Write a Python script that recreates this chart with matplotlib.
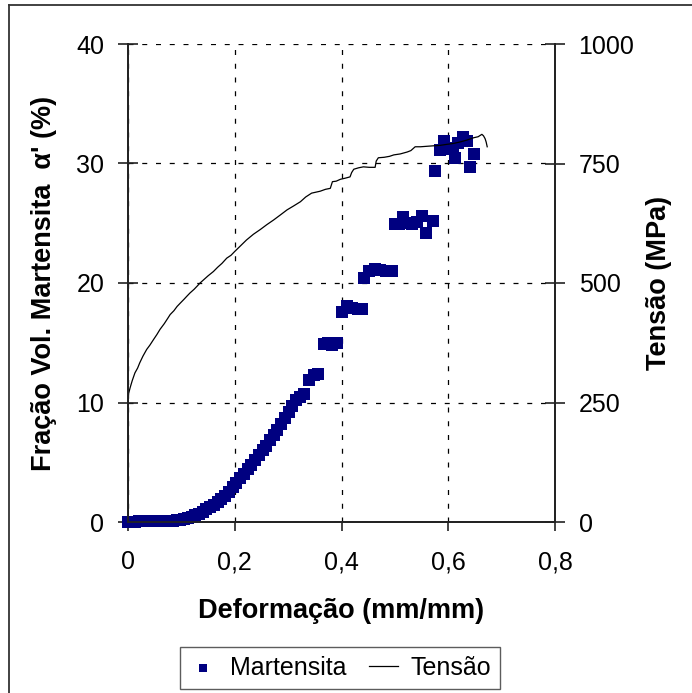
import matplotlib
matplotlib.use("Agg")
import matplotlib.pyplot as plt
from matplotlib.lines import Line2D
from matplotlib.ticker import FuncFormatter

plt.rcParams['font.family'] = ['Liberation Sans', 'DejaVu Sans']

# Martensite volume fraction (%) vs strain
mart_x = [0.000, 0.007, 0.014, 0.021, 0.028, 0.035, 0.042, 0.049, 0.056, 0.063,
          0.070, 0.077, 0.084, 0.091, 0.098, 0.105, 0.112, 0.119, 0.126, 0.133,
          0.140, 0.147, 0.154, 0.161, 0.168, 0.175, 0.182, 0.189, 0.196, 0.203,
          0.210, 0.217, 0.224, 0.231, 0.238, 0.245, 0.252, 0.259, 0.266, 0.273,
          0.280, 0.287, 0.294, 0.301, 0.308, 0.315, 0.322, 0.329,
          0.340, 0.348, 0.356, 0.367, 0.375, 0.383, 0.391,
          0.401, 0.410, 0.420, 0.430, 0.438,
          0.443, 0.452, 0.462, 0.472, 0.483, 0.494,
          0.500, 0.508, 0.515, 0.523, 0.532, 0.542, 0.550, 0.559, 0.571,
          0.576, 0.585, 0.592, 0.600, 0.608, 0.613, 0.619, 0.627, 0.635, 0.640, 0.649]
mart_y = [0.0, 0.0, 0.0, 0.05, 0.05, 0.05, 0.05, 0.05, 0.05, 0.05,
          0.05, 0.05, 0.1, 0.15, 0.2, 0.25, 0.35, 0.45, 0.55, 0.7,
          0.85, 1.05, 1.25, 1.45, 1.65, 1.9, 2.2, 2.55, 2.9, 3.3,
          3.7, 4.0, 4.4, 4.8, 5.2, 5.6, 6.0, 6.4, 6.9, 7.3,
          7.7, 8.2, 8.7, 9.2, 9.7, 10.2, 10.5, 10.7,
          11.9, 12.3, 12.4, 14.9, 15.0, 14.8, 15.0,
          17.6, 18.1, 17.9, 17.8, 17.8,
          20.4, 21.0, 21.2, 21.1, 21.0, 21.0,
          24.9, 24.9, 25.5, 25.0, 24.9, 25.1, 25.6, 24.2, 25.2,
          29.4, 31.1, 31.9, 31.2, 31.3, 30.5, 31.7, 32.2, 31.9, 29.7, 30.8]

# Stress (MPa) vs strain
tens_x = [0.000, 0.000, 0.001, 0.004, 0.008, 0.013, 0.018, 0.022, 0.028, 0.035,
          0.041, 0.048, 0.054, 0.060, 0.068, 0.075, 0.079, 0.086, 0.092, 0.098,
          0.105, 0.110, 0.116, 0.124, 0.130, 0.135, 0.142, 0.150, 0.160, 0.168,
          0.176, 0.185, 0.193, 0.200, 0.211, 0.222, 0.235, 0.248, 0.260, 0.273,
          0.285, 0.298, 0.310, 0.323, 0.333, 0.344, 0.352, 0.360, 0.370, 0.379,
          0.381, 0.383, 0.390, 0.398, 0.406, 0.416, 0.419, 0.423, 0.432, 0.441,
          0.452, 0.463, 0.465, 0.469, 0.480, 0.490, 0.498, 0.510, 0.523, 0.530,
          0.538, 0.548, 0.560, 0.572, 0.585, 0.597, 0.610, 0.622, 0.635, 0.648,
          0.656, 0.663, 0.666, 0.669, 0.671, 0.673]
tens_y = [0, 255, 268, 281, 296, 312, 322, 333, 347, 361,
          370, 382, 392, 403, 415, 427, 434, 442, 451, 458,
          466, 472, 479, 487, 494, 500, 507, 515, 524, 533,
          541, 552, 558, 566, 578, 590, 602, 612, 622, 632,
          642, 653, 661, 670, 680, 688, 690, 692, 696, 698,
          705, 712, 713, 717, 719, 722, 731, 738, 741, 743,
          742, 742, 755, 762, 763, 765, 768, 770, 774, 777,
          785, 785, 786, 787, 788, 790, 792, 795, 799, 804,
          806, 811, 808, 802, 795, 785]

fig = plt.figure(figsize=(6.92, 6.93), dpi=100)
ax = fig.add_axes([128 / 692, 1 - 522 / 693, 427 / 692, 478 / 693])
ax2 = ax.twinx()

ax.set_xlim(0, 0.8)
ax.set_ylim(0, 40)
ax2.set_ylim(0, 1000)

ax.set_xticks([0, 0.2, 0.4, 0.6, 0.8])
ax.set_yticks([0, 10, 20, 30, 40])
ax2.set_yticks([0, 250, 500, 750, 1000])
ax.xaxis.set_major_formatter(FuncFormatter(lambda v, p: ('%g' % round(v, 1)).replace('.', ',')))

ax.grid(True, color='black', linestyle=(0, (4, 7)), linewidth=0.9)
ax.set_axisbelow(True)

sc = ax.scatter(mart_x, mart_y, marker='s', s=72, color='#000080', linewidths=0,
                zorder=3, label='Martensita', clip_on=False)
ln, = ax2.plot(tens_x, tens_y, color='black', linewidth=0.9, label='Tensão')

for a in (ax, ax2):
    a.spines['top'].set_visible(False)
    for side in ('left', 'right', 'bottom'):
        a.spines[side].set_color('#222222')
        a.spines[side].set_linewidth(1.3)

ax.tick_params(axis='y', which='major', labelsize=18, direction='inout',
               length=14, width=1.2, color='#222222', pad=10)
ax.tick_params(axis='x', which='major', labelsize=18, direction='out', length=6.5,
               width=1.2, color='#222222', pad=14)
ax2.tick_params(axis='y', labelsize=18, direction='inout', length=14, width=1.2,
                color='#222222', pad=10)

ax.set_xlabel('Deformação (mm/mm)', fontsize=19.5, fontweight='bold', labelpad=17)
ax.set_ylabel("Fração Vol. Martensita  α' (%)", fontsize=19.5, fontweight='bold', labelpad=14)
ax2.set_ylabel('Tensão (MPa)', fontsize=19.5, fontweight='bold', labelpad=8)

leg = fig.legend(handles=[sc, ln], labels=['Martensita', 'Tensão'],
                 loc='upper center', bbox_to_anchor=(340 / 692, 1 - 647 / 693),
                 ncol=2, fontsize=18, frameon=True, fancybox=False,
                 edgecolor='#333333', borderpad=0.35, handlelength=1.15, handletextpad=0.5,
                 columnspacing=0.9, markerscale=0.75, borderaxespad=0)
leg.get_frame().set_linewidth(1.0)

# outer frame (left and top edges visible)
fig.add_artist(Line2D([9 / 692, 9 / 692], [0, 1 - 5 / 693], transform=fig.transFigure,
                      color='#333333', linewidth=1.3))
fig.add_artist(Line2D([9 / 692, 1], [1 - 5 / 693, 1 - 5 / 693], transform=fig.transFigure,
                      color='#333333', linewidth=1.3))

fig.savefig('out.png', dpi=100)
